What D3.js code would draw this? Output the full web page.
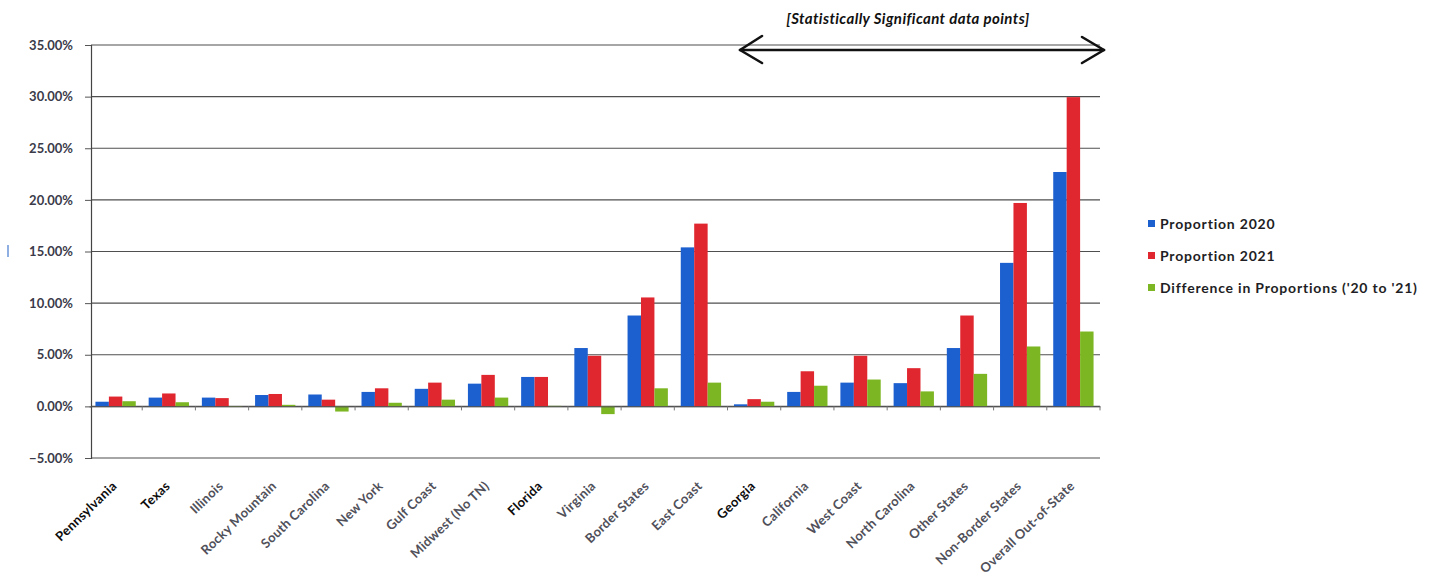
<!DOCTYPE html>
<html>
<head>
<meta charset="utf-8">
<script src="https://cdn.jsdelivr.net/npm/d3@7"></script>
<style>
  html, body { margin: 0; padding: 0; background: #fff; }
  svg { display: block; }
  text { font-family: Lato, "Open Sans", sans-serif; }
</style>
</head>
<body>
<svg id="chart" width="1440" height="582"></svg>
<script>
// Regions compared, in axis order
const categories = [
  "Pennsylvania", "Texas", "Illinois", "Rocky Mountain", "South Carolina",
  "New York", "Gulf Coast", "Midwest (No TN)", "Florida", "Virginia",
  "Border States", "East Coast", "Georgia", "California", "West Coast",
  "North Carolina", "Other States", "Non-Border States", "Overall Out-of-State"
];
// Labels set in heavier type on the axis
const emphasised = ["Pennsylvania", "Texas", "Florida", "Georgia"];

// Series values, in percent
const proportion2020 = [0.45, 0.85, 0.85, 1.1, 1.15, 1.4, 1.7, 2.2, 2.85, 5.65, 8.8, 15.4, 0.2, 1.4, 2.3, 2.25, 5.65, 13.9, 22.7];
const proportion2021 = [0.95, 1.25, 0.8, 1.2, 0.65, 1.75, 2.3, 3.05, 2.85, 4.9, 10.55, 17.7, 0.7, 3.4, 4.9, 3.7, 8.8, 19.7, 29.95];
const difference     = [0.5, 0.4, -0.05, 0.15, -0.5, 0.35, 0.65, 0.85, 0.05, -0.75, 1.75, 2.3, 0.45, 2.0, 2.6, 1.45, 3.15, 5.8, 7.25];

const seriesNames = ["Proportion 2020", "Proportion 2021", "Difference in Proportions ('20 to '21)"];
const seriesValues = [proportion2020, proportion2021, difference];
const seriesColors = ["#1c5fcf", "#e0262f", "#7cb622"];

const yTicks = [-5, 0, 5, 10, 15, 20, 25, 30, 35];
const annotation = "[Statistically Significant data points]";

const svg = d3.select("#chart");
const plot = { left: 91, right: 1100, top: 45, bottom: 458 };

const y = d3.scaleLinear().domain([-5, 35]).range([plot.bottom, plot.top]);
const x = d3.scaleBand().domain(categories).range([plot.left - 2, plot.right]).paddingInner(0).paddingOuter(0);
const xs = d3.scaleBand().domain(d3.range(seriesNames.length)).range([0, x.bandwidth()]).paddingInner(0).paddingOuter(0.48);

// Horizontal gridlines
svg.append("g").selectAll("line").data(yTicks).join("line")
  .attr("x1", plot.left).attr("x2", plot.right)
  .attr("y1", d => y(d)).attr("y2", d => y(d))
  .attr("stroke", "#4f4f4f").attr("stroke-width", 1.1);

// Value axis
const yAxis = d3.axisLeft(y).tickValues(yTicks).tickSize(6).tickPadding(12)
  .tickFormat(d => d3.format(".2f")(d) + "%");
const ya = svg.append("g").attr("transform", `translate(${plot.left},0)`).call(yAxis);
ya.select(".domain").attr("stroke", "#444").attr("stroke-width", 1.2);
ya.selectAll(".tick line").attr("stroke", "#555");
ya.selectAll(".tick text")
  .attr("font-size", 13).attr("font-weight", 700).attr("fill", "#3b3b4a");

// Bars
const groups = svg.append("g").selectAll("g").data(categories).join("g")
  .attr("transform", d => `translate(${x(d)},0)`);
groups.selectAll("rect")
  .data((d, i) => seriesValues.map((vals, s) => ({ s, v: vals[i] })))
  .join("rect")
  .attr("x", d => xs(d.s))
  .attr("width", xs.bandwidth())
  .attr("y", d => y(Math.max(0, d.v)))
  .attr("height", d => Math.abs(y(d.v) - y(0)))
  .attr("fill", d => seriesColors[d.s]);

// Category axis on the zero line
const xAxis = d3.axisBottom(x).tickSize(0).tickFormat("");
const xa = svg.append("g").attr("transform", `translate(0,${y(0)})`).call(xAxis);
xa.select(".domain").attr("stroke", "#555").attr("stroke-width", 1);
xa.selectAll(".bound").data(categories).join("line")
  .attr("class", "bound")
  .attr("x1", d => x(d) + x.step())
  .attr("x2", d => x(d) + x.step())
  .attr("y1", 0).attr("y2", 4)
  .attr("stroke", "#777");

// Rotated category labels below the chart
svg.append("g").selectAll("text").data(categories).join("text")
  .attr("text-anchor", "end")
  .attr("transform", d => `translate(${x(d) + x.bandwidth() / 2 + 2},${plot.bottom + 29}) rotate(-44)`)
  .attr("font-size", 13)
  .attr("letter-spacing", 0.3)
  .attr("font-weight", 700)
  .attr("fill", d => emphasised.includes(d) ? "#0d0d0d" : "#50505a")
  .text(d => d);

// Legend
const legend = svg.append("g").attr("transform", "translate(1148,224)");
const li = legend.selectAll("g").data(seriesNames).join("g")
  .attr("transform", (d, i) => `translate(0,${i * 32})`);
li.append("rect").attr("x", 0).attr("y", -4).attr("width", 7).attr("height", 7)
  .attr("fill", (d, i) => seriesColors[i]);
li.append("text").attr("x", 12).attr("y", 0).attr("dy", "0.35em")
  .attr("font-size", 14).attr("font-weight", 700).attr("letter-spacing", 0.8)
  .attr("fill", "#1e1e24")
  .text(d => d);

// Bracketed note with a double-headed arrow spanning the significant regions
svg.append("text")
  .attr("x", 908).attr("y", 24).attr("text-anchor", "middle")
  .attr("font-size", 15).attr("font-weight", 700).attr("font-style", "italic")
  .attr("letter-spacing", 0.4)
  .attr("fill", "#111").text(annotation);

const ay = 50, ax1 = 740, ax2 = 1104;
const arrow = svg.append("g").attr("stroke", "#111").attr("stroke-width", 2.6)
  .attr("fill", "none").attr("stroke-linecap", "round").attr("stroke-linejoin", "round");
arrow.append("line").attr("x1", ax1).attr("x2", ax2).attr("y1", ay).attr("y2", ay);
arrow.append("path").attr("d", `M${ax1 + 22},${ay - 14} L${ax1},${ay} L${ax1 + 22},${ay + 13}`);
arrow.append("path").attr("d", `M${ax2 - 22},${ay - 13} L${ax2},${ay} L${ax2 - 22},${ay + 13}`);

// Small blue mark at the left edge
svg.append("line").attr("x1", 8).attr("x2", 8).attr("y1", 245).attr("y2", 257)
  .attr("stroke", "#6a93d8").attr("stroke-width", 1.5);
</script>
</body>
</html>
